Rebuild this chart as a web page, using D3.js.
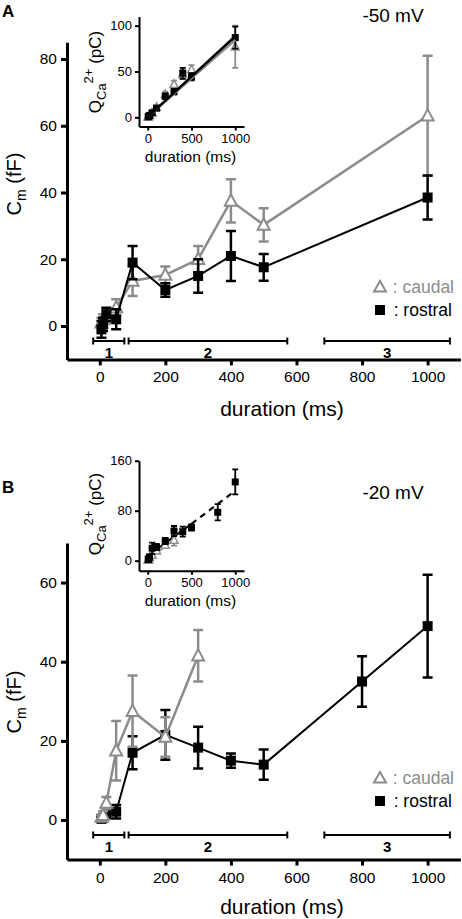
<!DOCTYPE html>
<html><head><meta charset="utf-8">
<script src="https://cdn.jsdelivr.net/npm/d3@7"></script>
<style>
html,body{margin:0;padding:0;background:#fff;}
text{font-family:"Liberation Sans",Arial,Helvetica,sans-serif;}
</style></head>
<body><div id="chart"></div>
<script>
// ---------- DATA ----------
// Panel A (-50 mV), Cm (fF)
const durA = [5, 10, 20, 50, 100, 200, 300, 400, 500, 1000];
const caudalA = [1, 2, 3, 5.5, 13.5, 15.3, 20, 37.5, 30.3, 63];
const caudalAErr = [1.5, 1.5, 2, 2.5, 4.5, 2.5, 4, 6.5, 5, 18];
const rostralA = [-1, 0.5, 3.5, 2, 19, 10.8, 15, 21, 17.6, 38.5];
const rostralAErr = [2.5, 2, 2, 3, 5, 2, 5, 7.5, 4, 6.6];
// Inset A, QCa2+ (pC)
const caudalQA = [0.5, 1, 2.5, 5, 11, 25, 36, 47, 52, 77];
const caudalQAErr = [0.3, 0.5, 1, 1.5, 2, 3, 4, 5, 5, 23];
const rostralQA = [0.5, 1, 2, 5, 10, 23, 28, 48, 44.3, 87];
const rostralQAErr = [0.3, 0.5, 1, 1.5, 2, 3, 3, 6, 4, 12];
const fitQA = {caudal: [0.5, 84.5], rostral: [0.5, 88.5]}; // fit values at 0 and 1000 ms

// Panel B (-20 mV)
const durCaudalB = [5, 10, 20, 50, 100, 200, 300];
const caudalB = [0.8, 1.2, 4.3, 17.5, 27.5, 21, 41.5];
const caudalBErr = [0.5, 1, 1.5, 7.5, 9, 5, 6.5];
const durRostralB = [5, 10, 20, 50, 100, 200, 300, 400, 500, 800, 1000];
const rostralB = [0.3, 0.5, 1.5, 2.1, 17, 21.5, 18.3, 15, 14, 35, 49];
const rostralBErr = [0.5, 0.5, 1, 1.7, 4.2, 6.3, 5.3, 1.8, 3.8, 6.4, 13];
// Inset B
const caudalQB = [1, 2, 5, 9, 16, 25, 33];
const caudalQBErr = [0.5, 1, 2, 3, 4, 4, 9];
const rostralQB = [2, 3, 6, 20, 22, 31.5, 47.5, 46.4, 53, 77.4, 126];
const rostralQBErr = [1, 1.5, 3, 9, 5, 5, 8, 8, 5, 13, 20];
const fitQB = {caudal: [[0, 1], [300, 34]], rostralSolid: [[0, 8], [500, 59]], rostralDashed: [[500, 59], [1000, 112]]};

// Phases (ms)
const phases = [{label: "1", from: -20, to: 75}, {label: "2", from: 88, to: 572}, {label: "3", from: 685, to: 1068}];
const xTicksMain = [0, 200, 400, 600, 800, 1000];
const xTicksInset = [0, 500, 1000];
const yTicksA = [0, 20, 40, 60, 80];
const yTicksB = [0, 20, 40, 60];
const yTicksQA = [0, 50, 100];
const yTicksQB = [0, 80, 160];

// ---------- DRAW ----------
const W = 462, H = 919;
const GRAY = "#8c8c8c";
const fmt = d3.format("d");
const svg = d3.select("#chart").append("svg").attr("width", W).attr("height", H);

function zip(d, v, e) { return d.map((x, i) => ({x, y: v[i], e: e[i]})); }

function drawSeries(g, x, y, pts, opt) {
  const line = d3.line().x(d => x(d.x)).y(d => y(d.y));
  if (opt.lw > 0) g.append("path").datum(pts).attr("d", line).attr("fill", "none")
    .attr("stroke", opt.color).attr("stroke-width", opt.lw);
  const eb = g.append("g").attr("stroke", opt.color).attr("stroke-width", opt.ew).attr("fill", "none");
  pts.forEach(d => {
    const x0 = x(d.x), y1 = y(d.y - d.e), y2 = y(d.y + d.e), c = opt.cap / 2;
    eb.append("path").attr("d", `M${x0},${y1}V${y2}M${x0 - c},${y1}H${x0 + c}M${x0 - c},${y2}H${x0 + c}`);
  });
  const s = opt.size;
  pts.forEach(d => {
    const cx = x(d.x), cy = y(d.y);
    if (opt.shape === "square") {
      g.append("rect").attr("x", cx - s / 2).attr("y", cy - s / 2).attr("width", s).attr("height", s).attr("fill", opt.color);
    } else {
      g.append("path").attr("d", `M${cx},${cy - s * 0.55}L${cx + s * 0.5},${cy + s * 0.4}L${cx - s * 0.5},${cy + s * 0.4}Z`)
        .attr("fill", "#fff").attr("stroke", opt.color).attr("stroke-width", opt.mw);
    }
  });
}

function styleAxis(g, sw, fs) {
  g.select(".domain").attr("stroke", "#000").attr("stroke-width", sw);
  g.selectAll(".tick line").attr("stroke", "#000").attr("stroke-width", sw);
  g.selectAll(".tick text").attr("font-size", fs).attr("fill", "#000")
    .attr("font-family", "'Liberation Sans',Arial,sans-serif");
}

function mainPanel(cfg) {
  const x = d3.scaleLinear().domain([-100, 1100]).range([67, 460.4]);
  const y = d3.scaleLinear().domain(cfg.yDomain).range(cfg.yRange);
  const g = svg.append("g");
  const xa = g.append("g").attr("transform", `translate(0,${y(cfg.yDomain[0])})`)
    .call(d3.axisBottom(x).tickValues(xTicksMain).tickFormat(fmt).tickSize(6).tickSizeOuter(0).tickPadding(6));
  styleAxis(xa, 3, "15.5px");
  const ya = g.append("g").attr("transform", `translate(${x(-100)},0)`)
    .call(d3.axisLeft(y).tickValues(cfg.yTicks).tickFormat(fmt).tickSize(6).tickSizeOuter(0).tickPadding(4));
  styleAxis(ya, 3, "15.5px");
  // phases
  const pg = g.append("g").attr("stroke", "#000").attr("stroke-width", 2);
  phases.forEach(p => {
    const yy = y(cfg.phaseY), x1 = x(p.from), x2 = x(p.to);
    pg.append("path").attr("d", `M${x1},${yy}H${x2}M${x1},${yy - 3.5}V${yy + 3.5}M${x2},${yy - 3.5}V${yy + 3.5}`);
    g.append("text").attr("x", (x1 + x2) / 2).attr("y", yy + 17).attr("text-anchor", "middle")
      .attr("font-size", "15px").attr("font-weight", "bold").text(p.label);
  });
  // series
  cfg.series.forEach(s => drawSeries(g, x, y, s.pts, s.opt));
  // axis labels
  g.append("text").attr("x", 282).attr("y", cfg.xLabelY).attr("text-anchor", "middle")
    .attr("font-size", "21px").text("duration (ms)");
  const yl = g.append("text").attr("transform", `translate(21,${cfg.yLabelY}) rotate(-90)`)
    .attr("text-anchor", "middle").attr("font-size", "20px");
  yl.append("tspan").text("C");
  yl.append("tspan").attr("font-size", "14px").attr("dy", 5).text("m");
  yl.append("tspan").attr("dy", -5).text(" (fF)");
  // title, panel letter
  g.append("text").attr("x", 393).attr("y", cfg.titleY).attr("text-anchor", "middle").attr("font-size", "19px").text(cfg.title);
  g.append("text").attr("x", 2).attr("y", cfg.letterY).attr("font-size", "17px").attr("font-weight", "bold").text(cfg.letter);
  // legend
  const lg = g.append("g");
  const ly1 = cfg.legendY, ly2 = cfg.legendY + 23;
  lg.append("path").attr("d", `M380,${ly1 - 6}L386,${ly1 + 4.5}L374,${ly1 + 4.5}Z`).attr("fill", "#fff").attr("stroke", GRAY).attr("stroke-width", 2);
  lg.append("text").attr("x", 454).attr("y", ly1 + 6).attr("text-anchor", "end").attr("font-size", "17.5px").attr("fill", GRAY).text(": caudal");
  lg.append("rect").attr("x", 375).attr("y", ly2 - 5).attr("width", 10).attr("height", 10).attr("fill", "#000");
  lg.append("text").attr("x", 452).attr("y", ly2 + 6).attr("text-anchor", "end").attr("font-size", "17.5px").attr("fill", "#000").text(": rostral");
  return {x, y};
}

function inset(cfg) {
  const x = d3.scaleLinear().domain([-100, 1100]).range([139, 244]);
  const y = d3.scaleLinear().domain(cfg.yDomain).range(cfg.yRange);
  const g = svg.append("g");
  const xa = g.append("g").attr("transform", `translate(0,${y(cfg.yDomain[0])})`)
    .call(d3.axisBottom(x).tickValues(xTicksInset).tickFormat(fmt).tickSize(4).tickSizeOuter(0).tickPadding(3));
  styleAxis(xa, 2, "13px");
  const ya = g.append("g").attr("transform", `translate(${x(-100)},0)`)
    .call(d3.axisLeft(y).tickValues(cfg.yTicks).tickFormat(fmt).tickSize(4).tickSizeOuter(0).tickPadding(3));
  styleAxis(ya, 2, "13px");
  cfg.draw(g, x, y);
  g.append("text").attr("x", 190.5).attr("y", cfg.xLabelY).attr("text-anchor", "middle").attr("font-size", "15.5px").text("duration (ms)");
  const yl = g.append("text").attr("transform", `translate(101,${cfg.yLabelY}) rotate(-90)`)
    .attr("text-anchor", "middle").attr("font-size", "17px");
  yl.append("tspan").text("Q");
  yl.append("tspan").attr("font-size", "13px").attr("dy", 5).text("Ca");
  yl.append("tspan").attr("font-size", "13px").attr("dy", -13).text("2+");
  yl.append("tspan").attr("dy", 8).text(" (pC)");
}

const markMain = {
  caudal: {color: GRAY, lw: 2.5, ew: 2.5, cap: 10, size: 12, shape: "tri", mw: 2},
  rostral: {color: "#000", lw: 2, ew: 2.5, cap: 10, size: 10, shape: "square"}
};
const markInset = {
  caudal: {color: GRAY, lw: 0, ew: 1.8, cap: 6, size: 8, shape: "tri", mw: 1.5},
  rostral: {color: "#000", lw: 0, ew: 1.8, cap: 6, size: 7, shape: "square"}
};

// Panel A
mainPanel({
  yDomain: [-10, 85], yRange: [359.4, 42.3], yTicks: yTicksA, phaseY: -4.5,
  xLabelY: 416, yLabelY: 184, title: "-50 mV", titleY: 22, letter: "A", letterY: 17, legendY: 287,
  series: [
    {pts: zip(durA, caudalA, caudalAErr), opt: markMain.caudal},
    {pts: zip(durA, rostralA, rostralAErr), opt: markMain.rostral}
  ]
});
inset({
  yDomain: [-10, 110], yRange: [126.5, 16.5], yTicks: yTicksQA, xLabelY: 162, yLabelY: 72,
  draw: (g, x, y) => {
    drawSeries(g, x, y, zip(durA, caudalQA, caudalQAErr), markInset.caudal);
    drawSeries(g, x, y, zip(durA, rostralQA, rostralQAErr), markInset.rostral);
    g.append("line").attr("x1", x(0)).attr("y1", y(fitQA.caudal[0])).attr("x2", x(1000)).attr("y2", y(fitQA.caudal[1]))
      .attr("stroke", GRAY).attr("stroke-width", 2.5);
    g.append("line").attr("x1", x(0)).attr("y1", y(fitQA.rostral[0])).attr("x2", x(1000)).attr("y2", y(fitQA.rostral[1]))
      .attr("stroke", "#000").attr("stroke-width", 2.5);
  }
});

// Panel B
mainPanel({
  yDomain: [-10, 70], yRange: [859.6, 543], yTicks: yTicksB, phaseY: -3.8,
  xLabelY: 914, yLabelY: 702, title: "-20 mV", titleY: 499, letter: "B", letterY: 493, legendY: 778,
  series: [
    {pts: zip(durRostralB, rostralB, rostralBErr), opt: markMain.rostral},
    {pts: zip(durCaudalB, caudalB, caudalBErr), opt: markMain.caudal}
  ]
});
inset({
  yDomain: [-16, 160], yRange: [570.7, 460.7], yTicks: yTicksQB, xLabelY: 606, yLabelY: 514,
  draw: (g, x, y) => {
    const ln = d3.line().x(d => x(d[0])).y(d => y(d[1]));
    g.append("path").attr("d", ln(fitQB.caudal)).attr("stroke", GRAY).attr("stroke-width", 2).attr("fill", "none");
    g.append("path").attr("d", ln(fitQB.rostralSolid)).attr("stroke", "#000").attr("stroke-width", 2).attr("fill", "none");
    g.append("path").attr("d", ln(fitQB.rostralDashed)).attr("stroke", "#000").attr("stroke-width", 2.2)
      .attr("stroke-dasharray", "6,5").attr("fill", "none");
    drawSeries(g, x, y, zip(durCaudalB, caudalQB, caudalQBErr), markInset.caudal);
    drawSeries(g, x, y, zip(durRostralB, rostralQB, rostralQBErr), markInset.rostral);
  }
});
</script></body></html>
